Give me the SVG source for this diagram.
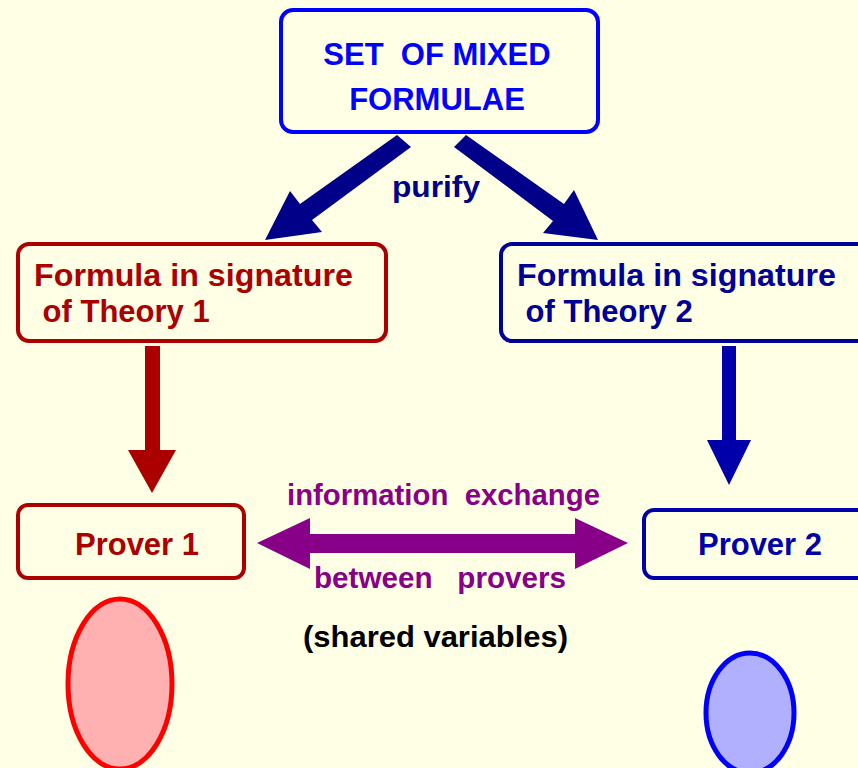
<svg xmlns="http://www.w3.org/2000/svg" width="858" height="768" viewBox="0 0 858 768">
<style>
text{font-family:"Liberation Sans",Arial,sans-serif;font-weight:bold}
.box{fill:#FFFFE6;stroke-width:4}
</style>
<rect width="858" height="768" fill="#FFFFE6"/>
<g id="connectors">
<g id="purify-left" fill="#000088">
<polygon points="397,135 411,147 312,220 322,232 265,240 290,191 300,204"/>
</g>
<g id="purify-right" fill="#000088">
<polygon points="466,135 454,147 553,221 543,233 598,240 574,190 564,204"/>
</g>
<text x="436" y="197" font-size="29" fill="#000088" text-anchor="middle" textLength="88" lengthAdjust="spacingAndGlyphs">purify</text>
<polygon id="arr-left" fill="#AA0000" points="145,346 160,346 160,450 176,450 152,493 128,450 145,450"/>
<polygon id="arr-right" fill="#0000AA" points="722,346 736,346 736,440 751,440 729,485 707,440 722,440"/>
<polygon id="exchange" fill="#880088" points="257,543 310,518 310,534 575,534 575,518 628,543 575,569 575,553 310,553 310,569"/>
<text x="287" y="505" font-size="30" fill="#880088" textLength="313" lengthAdjust="spacingAndGlyphs" xml:space="preserve">information  exchange</text>
<text x="314" y="588" font-size="30" fill="#880088" textLength="252" lengthAdjust="spacingAndGlyphs" xml:space="preserve">between   provers</text>
<text x="303" y="647" font-size="29" fill="#000" textLength="265" lengthAdjust="spacingAndGlyphs">(shared variables)</text>
</g>
<g id="mixed">
<rect class="box" x="281" y="10" width="317" height="122" rx="12" stroke="#0000FF"/>
<text x="437" y="65" font-size="31" fill="#0000FF" text-anchor="middle" xml:space="preserve">SET  OF MIXED</text>
<text x="437" y="110" font-size="31" fill="#0000FF" text-anchor="middle">FORMULAE</text>
</g>
<g id="theory1">
<rect class="box" x="18" y="244" width="368" height="97" rx="11" stroke="#AA0000"/>
<text x="34" y="286" font-size="31" fill="#AA0000" textLength="319" lengthAdjust="spacingAndGlyphs">Formula in signature</text>
<text x="34" y="322" font-size="31" fill="#AA0000" xml:space="preserve"> of Theory 1</text>
</g>
<g id="theory2">
<rect class="box" x="501" y="244" width="370" height="97" rx="11" stroke="#000099"/>
<text x="517" y="286" font-size="31" fill="#000099" textLength="319" lengthAdjust="spacingAndGlyphs">Formula in signature</text>
<text x="517" y="322" font-size="31" fill="#000099" xml:space="preserve"> of Theory 2</text>
</g>
<g id="prover1">
<rect class="box" x="18" y="505" width="226" height="73" rx="10" stroke="#AA0000"/>
<text x="137" y="555" font-size="31" fill="#AA0000" text-anchor="middle">Prover 1</text>
</g>
<g id="prover2">
<rect class="box" x="644" y="510" width="230" height="68" rx="10" stroke="#0000AA"/>
<text x="760" y="555" font-size="31" fill="#0000AA" text-anchor="middle">Prover 2</text>
</g>
<g id="ellipse1">
<ellipse cx="120" cy="684" rx="52" ry="85" fill="#FFB0B0" stroke="#FF0000" stroke-width="5"/>
</g>
<g id="ellipse2">
<ellipse cx="750" cy="713" rx="44" ry="60" fill="#B0B0FF" stroke="#0000FF" stroke-width="5"/>
</g>
</svg>
